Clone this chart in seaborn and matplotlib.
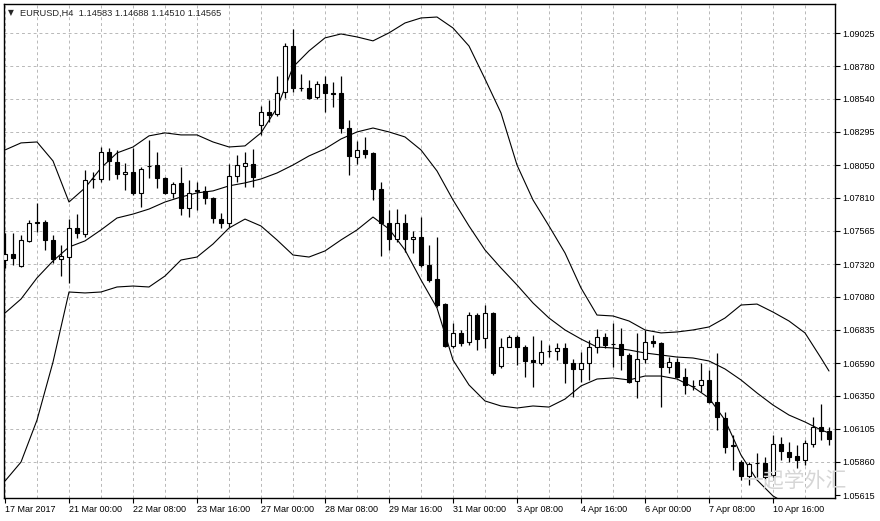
import numpy as np
import pandas as pd
import matplotlib
matplotlib.use('Agg')
import matplotlib.pyplot as plt
import seaborn as sns

# EURUSD H4 candles, 17 Mar 2017 16:00 -> 11 Apr 2017 20:00
opens = [1.07350, 1.07394, 1.07306, 1.07491, 1.07623, 1.07630, 1.07498, 1.07358, 1.07372, 1.07586,
         1.07542, 1.07948, 1.07948, 1.08147, 1.08073, 1.07984, 1.07999, 1.07845, 1.08044, 1.08051,
         1.07956, 1.07845, 1.07919, 1.07734, 1.07860, 1.07860, 1.07808, 1.07652, 1.07623, 1.07970,
         1.08044, 1.08058, 1.08346, 1.08442, 1.08427, 1.08590, 1.08929, 1.08620, 1.08620, 1.08553,
         1.08649, 1.08583, 1.08583, 1.08324, 1.08110, 1.08162, 1.08140, 1.07874, 1.07623, 1.07505,
         1.07623, 1.07505, 1.07520, 1.07313, 1.07210, 1.07025, 1.06716, 1.06812, 1.06745, 1.06944,
         1.06775, 1.06959, 1.06568, 1.06708, 1.06782, 1.06708, 1.06612, 1.06590, 1.06679, 1.06679,
         1.06701, 1.06590, 1.06546, 1.06590, 1.06708, 1.06782, 1.06730, 1.06730, 1.06649, 1.06458,
         1.06620, 1.06753, 1.06738, 1.06560, 1.06597, 1.06487, 1.06421, 1.06428, 1.06465, 1.06302,
         1.06184, 1.05978, 1.05859, 1.05756, 1.05852, 1.05852, 1.05764, 1.05992, 1.05933, 1.05904,
         1.05874, 1.05992, 1.06118, 1.06089]
highs = [1.07550, 1.07550, 1.07535, 1.07645, 1.07771, 1.07645, 1.07535, 1.07461, 1.07653, 1.07689,
         1.08014, 1.07999, 1.08184, 1.08177, 1.08162, 1.08066, 1.08177, 1.08036, 1.08236, 1.08147,
         1.07963, 1.07926, 1.08036, 1.07941, 1.07926, 1.07897, 1.07815, 1.07697, 1.08058, 1.08125,
         1.08147, 1.08170, 1.08487, 1.08531, 1.08708, 1.08952, 1.09055, 1.08722, 1.08679, 1.08672,
         1.08708, 1.08664, 1.08708, 1.08383, 1.08229, 1.08258, 1.08145, 1.07926, 1.07719, 1.07726,
         1.07689, 1.07565, 1.07667, 1.07461, 1.07520, 1.07030, 1.06885, 1.06834, 1.06966, 1.06959,
         1.07018, 1.06965, 1.06775, 1.06797, 1.06797, 1.06723, 1.06790, 1.06760, 1.06723, 1.06738,
         1.06738, 1.06620, 1.06671, 1.06760, 1.06841, 1.06812, 1.06885, 1.06849, 1.06664, 1.06812,
         1.06834, 1.06797, 1.06745, 1.06634, 1.06627, 1.06553, 1.06465, 1.06590, 1.06538, 1.06664,
         1.06228, 1.06059, 1.05874, 1.05859, 1.05926, 1.05896, 1.06059, 1.06044, 1.06007, 1.05985,
         1.06022, 1.06192, 1.06287, 1.06118]
lows = [1.07291, 1.07313, 1.07300, 1.07483, 1.07557, 1.07424, 1.07328, 1.07232, 1.07181, 1.07513,
        1.07520, 1.07882, 1.07926, 1.07941, 1.07948, 1.07867, 1.07830, 1.07741, 1.07956, 1.07882,
        1.07837, 1.07808, 1.07682, 1.07667, 1.07719, 1.07763, 1.07623, 1.07586, 1.07593, 1.07926,
        1.07889, 1.07889, 1.08273, 1.08368, 1.08413, 1.08546, 1.08590, 1.08598, 1.08539, 1.08539,
        1.08442, 1.08479, 1.08288, 1.07977, 1.08058, 1.08103, 1.07793, 1.07380, 1.07424, 1.07483,
        1.07409, 1.07402, 1.07298, 1.07188, 1.07003, 1.06708, 1.06701, 1.06716, 1.06723, 1.06686,
        1.06701, 1.06501, 1.06553, 1.06705, 1.06575, 1.06486, 1.06413, 1.06575, 1.06634, 1.06612,
        1.06443, 1.06339, 1.06450, 1.06465, 1.06664, 1.06701, 1.06560, 1.06538, 1.06443, 1.06332,
        1.06590, 1.06708, 1.06265, 1.06516, 1.06480, 1.06361, 1.06391, 1.06376, 1.06295, 1.06096,
        1.05926, 1.05800, 1.05727, 1.05690, 1.05749, 1.05727, 1.05749, 1.05874, 1.05859, 1.05815,
        1.05837, 1.05970, 1.06022, 1.05985]
closes = [1.07394, 1.07365, 1.07498, 1.07623, 1.07630, 1.07498, 1.07358, 1.07380, 1.07586, 1.07550,
          1.07941, 1.07945, 1.08147, 1.08081, 1.07984, 1.07999, 1.07845, 1.08022, 1.08041, 1.07956,
          1.07845, 1.07911, 1.07734, 1.07845, 1.07867, 1.07808, 1.07660, 1.07623, 1.07970, 1.08051,
          1.08066, 1.07963, 1.08442, 1.08420, 1.08583, 1.08929, 1.08620, 1.08617, 1.08546, 1.08649,
          1.08583, 1.08575, 1.08324, 1.08118, 1.08162, 1.08132, 1.07874, 1.07623, 1.07505, 1.07623,
          1.07505, 1.07520, 1.07313, 1.07203, 1.07018, 1.06716, 1.06812, 1.06738, 1.06944, 1.06767,
          1.06959, 1.06516, 1.06708, 1.06782, 1.06708, 1.06605, 1.06597, 1.06671, 1.06676, 1.06701,
          1.06590, 1.06546, 1.06590, 1.06708, 1.06782, 1.06723, 1.06727, 1.06649, 1.06450, 1.06620,
          1.06745, 1.06738, 1.06560, 1.06597, 1.06487, 1.06428, 1.06418, 1.06465, 1.06302, 1.06192,
          1.05970, 1.05982, 1.05756, 1.05844, 1.05855, 1.05749, 1.05992, 1.05941, 1.05896, 1.05874,
          1.06000, 1.06118, 1.06089, 1.06029]

# Bollinger bands, read every 2nd bar (plus the last bar)
upper_band = [1.08162, 1.08214, 1.08221, 1.08081, 1.07778, 1.07882, 1.08029, 1.08140, 1.08184, 1.08266,
              1.08288, 1.08273, 1.08273, 1.08221, 1.08184, 1.08192, 1.08288, 1.08472, 1.08774, 1.08893,
              1.08989, 1.09018, 1.08996, 1.08967, 1.09026, 1.09099, 1.09136, 1.09143, 1.09062, 1.08929,
              1.08686, 1.08435, 1.08051, 1.07793, 1.07601, 1.07402, 1.07144, 1.06944, 1.06937, 1.06900,
              1.06834, 1.06812, 1.06819, 1.06834, 1.06856, 1.06922, 1.07018, 1.07025, 1.06966, 1.06900,
              1.06812, 1.06627, 1.06531]
middle_band = [1.06959, 1.07062, 1.07218, 1.07343, 1.07446, 1.07491, 1.07572, 1.07660, 1.07689, 1.07726,
               1.07778, 1.07815, 1.07845, 1.07860, 1.07897, 1.07919, 1.07948, 1.07992, 1.08051, 1.08118,
               1.08170, 1.08243, 1.08295, 1.08324, 1.08295, 1.08258, 1.08162, 1.08007, 1.07793, 1.07601,
               1.07424, 1.07291, 1.07166, 1.07033, 1.06922, 1.06834, 1.06767, 1.06708, 1.06701, 1.06686,
               1.06664, 1.06649, 1.06634, 1.06627, 1.06605, 1.06546, 1.06465, 1.06369, 1.06280, 1.06206,
               1.06155, 1.06096, 1.06074]
lower_band = [1.05719, 1.05859, 1.06169, 1.06597, 1.07114, 1.07107, 1.07114, 1.07151, 1.07158, 1.07151,
              1.07232, 1.07350, 1.07372, 1.07468, 1.07586, 1.07652, 1.07601, 1.07498, 1.07387, 1.07372,
              1.07417, 1.07498, 1.07572, 1.07667, 1.07579, 1.07424, 1.07203, 1.06996, 1.06612, 1.06428,
              1.06310, 1.06273, 1.06258, 1.06273, 1.06265, 1.06324, 1.06421, 1.06472, 1.06480, 1.06465,
              1.06494, 1.06494, 1.06472, 1.06413, 1.06332, 1.06169, 1.05911, 1.05727, 1.05609, 1.05542,
              1.05491, 1.05446, 1.05417]

time_labels = ['17 Mar 2017', '21 Mar 00:00', '22 Mar 08:00', '23 Mar 16:00', '27 Mar 00:00',
               '28 Mar 08:00', '29 Mar 16:00', '31 Mar 00:00', '3 Apr 08:00', '4 Apr 16:00',
               '6 Apr 00:00', '7 Apr 08:00', '10 Apr 16:00']
price_labels = [1.09025, 1.08780, 1.08540, 1.08295, 1.08050, 1.07810, 1.07565, 1.07320,
                1.07080, 1.06835, 1.06590, 1.06350, 1.06105, 1.05860, 1.05615]
header = 'EURUSD,H4  1.14583 1.14688 1.14510 1.14565'

sns.set_style('white')
plt.rcParams['font.family'] = ['Liberation Sans', 'DejaVu Sans']

df = pd.DataFrame({'open': opens, 'high': highs, 'low': lows, 'close': closes})
df['bar'] = np.arange(len(df))
df['bull'] = df['close'] >= df['open']

bands = pd.DataFrame({'bar': list(range(0, len(df), 2)) + [len(df) - 1],
                      'upper': upper_band, 'middle': middle_band, 'lower': lower_band})

W, H = 880, 521
fig = plt.figure(figsize=(W / 100, H / 100), dpi=100)
ax = fig.add_axes([4 / W, 1 - 498 / H, 831 / W, 494 / H])

# bands
for col in ['upper', 'middle', 'lower']:
    sns.lineplot(data=bands, x='bar', y=col, color='black', linewidth=0.8, ax=ax, zorder=2)

# candles: wicks then bodies
ax.vlines(df['bar'], df['low'], df['high'], color='black', linewidth=0.9, zorder=3)
body = (df['close'] - df['open']).abs().clip(lower=0.000008)
ax.bar(df['bar'], body, bottom=df[['open', 'close']].min(axis=1), width=0.62,
       color=np.where(df['bull'], 'white', 'black'), edgecolor='black', linewidth=0.8, zorder=4)

ax.set_xlim(-0.125, 103.75)
ax.set_ylim(1.05594, 1.09239)
ax.set_xlabel('')
ax.set_ylabel('')

ax.set_xticks(range(0, len(df), 8))
ax.set_xticklabels(time_labels, ha='left')
ax.set_xticks(range(0, len(df), 4), minor=True)
ax.yaxis.tick_right()
ax.set_yticks(price_labels)
ax.set_yticklabels([f'{p:.5f}' for p in price_labels])
ax.tick_params(axis='both', which='major', direction='out', length=3.5, width=0.8,
               labelsize=6.5, pad=1.5, colors='black')
ax.tick_params(axis='x', bottom=True)
ax.tick_params(axis='x', which='minor', length=0)

ax.grid(True, which='both', color='#b8b8b8', linestyle=(0, (3, 3)), linewidth=0.7)
ax.set_axisbelow(True)
ax.yaxis.get_major_ticks()[-1].gridline.set_visible(False)

for s in ax.spines.values():
    s.set_color('black')
    s.set_linewidth(1.0)

# header and watermark
fig.text(8 / W, 1 - 13 / H, '\u25bc', fontsize=5.5, va='center', family=['DejaVu Sans'])
fig.text(20 / W, 1 - 13 / H, header, fontsize=6.7, va='center')
fig.text(742 / W, 1 - 481 / H, '一起学外汇', fontsize=15, color='#d6d6d6', va='center',
         family=['Noto Sans CJK SC', 'DejaVu Sans'], zorder=10)

fig.savefig('out.png', dpi=100, facecolor='white')
